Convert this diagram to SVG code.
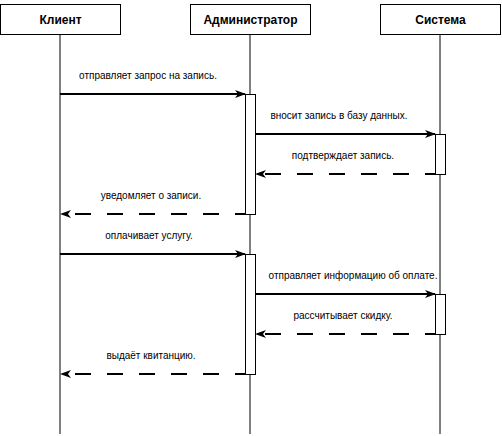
<svg xmlns="http://www.w3.org/2000/svg" width="502" height="436" viewBox="0 0 502 436">
<defs>
<marker id="ah" markerWidth="12" markerHeight="10" refX="10" refY="4" orient="auto" markerUnits="userSpaceOnUse">
<path d="M0,0 L11,4 L0,8 L3,4 z" fill="#000"/>
</marker>
</defs>
<style>
.hdr{fill:#fff;stroke:#000;stroke-width:1}
.ht{font-family:"Liberation Sans",Arial,sans-serif;font-size:12px;font-weight:bold;text-anchor:middle;fill:#000}
.life{stroke:#000;stroke-width:1;fill:none}
.act{fill:#fff;stroke:#000;stroke-width:1}
.msg{stroke:#000;stroke-width:2;fill:none;marker-end:url(#ah)}
.ret{stroke:#000;stroke-width:2;fill:none;stroke-dasharray:16 16;marker-end:url(#ah)}
.lbl{font-family:"Liberation Sans",Arial,sans-serif;font-size:10px;text-anchor:middle;fill:#000}
</style>
<rect width="502" height="436" fill="#fff"/>
<g id="lifelines">
<line class="life" x1="60" y1="34" x2="60" y2="434"/>
<line class="life" x1="250" y1="34" x2="250" y2="434"/>
<line class="life" x1="440" y1="34" x2="440" y2="434"/>
</g>
<g id="client"><rect class="hdr" x="0.5" y="4.5" width="120" height="30"/><text class="ht" x="60.5" y="23.5">Клиент</text></g>
<g id="admin"><rect class="hdr" x="190.5" y="4.5" width="120" height="30"/><text class="ht" x="250.5" y="23.5">Администратор</text></g>
<g id="system"><rect class="hdr" x="380.5" y="4.5" width="120" height="30"/><text class="ht" x="440.5" y="23.5">Система</text></g>
<g id="activations">
<rect class="act" x="245.5" y="94.5" width="10" height="120"/>
<rect class="act" x="245.5" y="254.5" width="10" height="120"/>
<rect class="act" x="435.5" y="134.5" width="10" height="40"/>
<rect class="act" x="435.5" y="294.5" width="10" height="40"/>
</g>
<g id="connectors">
<line class="msg" x1="60" y1="94" x2="245" y2="94"/>
<line class="msg" x1="255" y1="134" x2="435" y2="134"/>
<line class="ret" x1="435" y1="174" x2="256" y2="174" stroke-dashoffset="6"/>
<line class="ret" x1="245" y1="214" x2="61" y2="214" stroke-dashoffset="6"/>
<line class="msg" x1="60" y1="254" x2="245" y2="254"/>
<line class="msg" x1="255" y1="294" x2="435" y2="294"/>
<line class="ret" x1="435" y1="334" x2="256" y2="334" stroke-dashoffset="6"/>
<line class="ret" x1="245" y1="374" x2="61" y2="374" stroke-dashoffset="6"/>
</g>
<g id="labels">
<text class="lbl" x="148" y="79">отправляет запрос на запись.</text>
<text class="lbl" x="339" y="119">вносит запись в базу данных.</text>
<text class="lbl" x="343" y="159">подтверждает запись.</text>
<text class="lbl" x="151" y="199">уведомляет о записи.</text>
<text class="lbl" x="149" y="239">оплачивает услугу.</text>
<text class="lbl" x="353" y="279">отправляет информацию об оплате.</text>
<text class="lbl" x="343" y="319">рассчитывает скидку.</text>
<text class="lbl" x="151" y="359">выдаёт квитанцию.</text>
</g>
</svg>
